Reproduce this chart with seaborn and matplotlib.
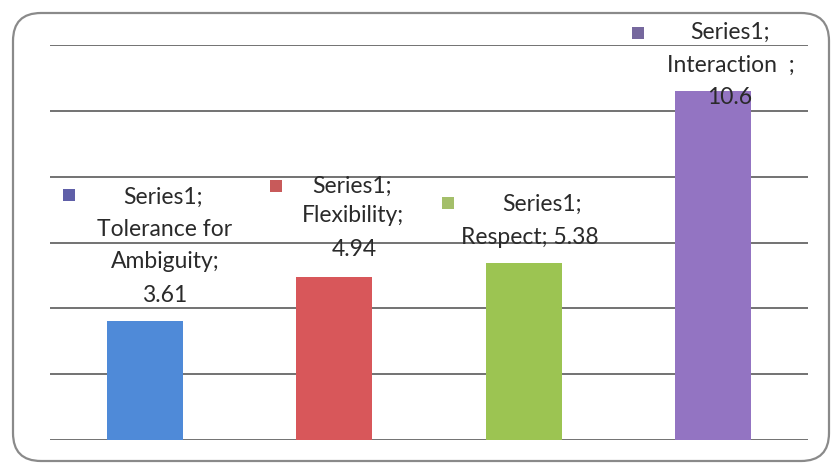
import matplotlib
matplotlib.use("Agg")
import matplotlib.pyplot as plt
from matplotlib.patches import FancyBboxPatch, Rectangle
import seaborn as sns
import pandas as pd

categories = ["Tolerance for Ambiguity", "Flexibility", "Respect", "Interaction"]
values = [3.61, 4.94, 5.38, 10.6]
bar_colors = ["#4f8ad8", "#d8575a", "#9cc452", "#9374c2"]
key_colors = ["#5f5fa8", "#c85a5a", "#a4bf6a", "#76689e"]
label_lines = [
    ["Series1;", "Tolerance for", "Ambiguity;", "3.61"],
    ["Series1;", "Flexibility;", "4.94"],
    ["Series1;", "Respect; 5.38"],
    ["Series1;", "Interaction  ;", "10.6"],
]
y_ticks = [0, 2, 4, 6, 8, 10, 12]

W, H = 838, 470
sns.set_theme(style="white")
plt.rcParams["font.family"] = ["Lato", "DejaVu Sans"]

fig = plt.figure(figsize=(W / 100, H / 100), dpi=100)
ax = fig.add_axes([50 / W, (H - 440) / H, (808 - 50) / W, (440 - 45) / H])

df = pd.DataFrame({"cat": categories, "val": values})
sns.barplot(data=df, x="cat", y="val", hue="cat", palette=bar_colors,
            width=0.4, legend=False, ax=ax, saturation=1, zorder=3,
            linewidth=0, edgecolor="none")

ax.set_ylim(0, 12)
ax.set_xlim(-0.5, 3.5)
ax.set_yticks(y_ticks)
ax.yaxis.grid(True, color="#5a5a5a", linewidth=1.2)
ax.set_axisbelow(True)
for s in ax.spines.values():
    s.set_visible(False)
ax.set_xticks([])
ax.set_yticklabels([])
ax.tick_params(left=False, bottom=False)
ax.set_xlabel("")
ax.set_ylabel("")
ax.set_facecolor("none")

# rounded outer border
border = FancyBboxPatch((0.13, 0.09), 8.16, 4.48,
                        boxstyle="round,pad=0,rounding_size=0.28",
                        transform=fig.dpi_scale_trans, fill=False,
                        edgecolor="#8a8a8a", linewidth=1.6)
fig.patches.append(border)

# data labels (pixel layout)
label_layout = [
    {"key": (63, 189), "lines": [(163, 197), (165, 229), (165, 262), (165, 295)]},
    {"key": (270, 180), "lines": [(352, 186), (353, 216), (354, 250)]},
    {"key": (442, 197), "lines": [(542, 204), (530, 238)]},
    {"key": (632, 27), "lines": [(730, 32), (731, 65), (730, 98)]},
]
for i, lay in enumerate(label_layout):
    kx, ky = lay["key"]
    fig.patches.append(Rectangle((kx / W, 1 - (ky + 12) / H), 12 / W, 12 / H,
                                 transform=fig.transFigure,
                                 facecolor=key_colors[i], edgecolor="none"))
    for txt, (px, py) in zip(label_lines[i], lay["lines"]):
        fig.text(px / W, 1 - py / H, txt, ha="center", va="center",
                 fontsize=16.5, color="#2a2a2a")

fig.savefig("out.png", dpi=100)
